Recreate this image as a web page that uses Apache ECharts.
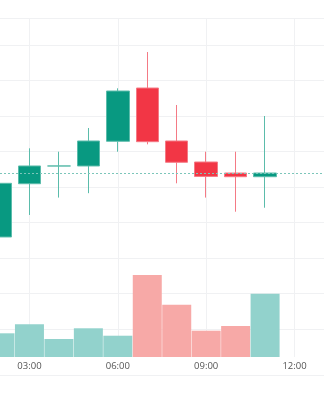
<!DOCTYPE html>
<html>
<head>
<meta charset="utf-8">
<script src="https://cdn.jsdelivr.net/npm/echarts@6/dist/echarts.min.js"></script>
<style>
html,body{margin:0;padding:0;background:#fff;}
#chart{width:324px;height:400px;}
</style>
</head>
<body>
<div id="chart"></div>
<script>
// Time slots (hourly)
const categories = ['02:00','03:00','04:00','05:00','06:00','07:00','08:00','09:00','10:00','11:00','12:00','13:00'];
// Candle values per hour: open, close, low, high
const opens  = [92.96, 100.46, 102.96, 102.96, 106.44, 113.94, 106.48, 103.52, 101.97, 101.45];
const closes = [100.52, 102.96, 102.96, 106.48, 113.52, 106.38, 103.48, 101.49, 101.45, 101.97];
const lows   = [91.50, 96.06, 98.51, 99.13, 104.97, 106.01, 100.52, 98.51, 96.52, 97.08];
const highs  = [101.50, 105.45, 104.97, 108.31, 113.90, 119.01, 111.55, 104.97, 104.97, 110.00];
// Volume per hour
const volumes = [699, 965, 531, 847, 628, 2419, 1543, 776, 914, 1867];
// Price scale ticks
const priceMin = 80, priceMax = 120, priceStep = 5;

const UP = '#089981', DOWN = '#f23645';
const UP_WICK = '#5bbcab', DOWN_WICK = '#f47a85';
const UP_VOL = '#92d2cc', DOWN_VOL = '#f7a9a7';
const GRID = '#f0f1f3';

const candleData = categories.map((c, i) => i < opens.length ? [opens[i], closes[i], lows[i], highs[i]] : '-');
const isUp = opens.map((o, i) => closes[i] >= o);
const volumeData = categories.map((c, i) => i < volumes.length ? volumes[i] : '-');
const lastClose = closes[closes.length - 1];

const labelEvery = (idx) => idx % 3 === 1;

const chart = echarts.init(document.getElementById('chart'), null, {renderer: 'canvas'});
chart.setOption({
  animation: false,
  backgroundColor: '#fff',
  grid: [
    {left: -2.9, right: -1.9, top: 45, bottom: 71},
    {left: -2.9, right: -1.9, top: 18, bottom: 43}
  ],
  xAxis: [
    {type: 'category', gridIndex: 0, data: categories, boundaryGap: false,
     axisLine: {show: false}, axisTick: {show: false}, axisLabel: {show: false}, splitLine: {show: false}},
    {type: 'category', gridIndex: 1, data: categories, boundaryGap: false,
     axisLine: {show: false}, axisTick: {show: false},
     axisLabel: {show: true, interval: labelEvery, fontFamily: 'Open Sans', fontSize: 9.5, color: '#555', margin: 4},
     splitLine: {show: true, interval: labelEvery, lineStyle: {color: GRID, width: 1}}}
  ],
  yAxis: [
    {type: 'value', gridIndex: 0, min: priceMin, max: priceMax, interval: priceStep,
     axisLine: {show: false}, axisTick: {show: false}, axisLabel: {show: false},
     splitLine: {show: true, lineStyle: {color: GRID, width: 1}}},
    {type: 'value', gridIndex: 1, min: 0, max: 10000,
     axisLine: {show: false}, axisTick: {show: false}, axisLabel: {show: false}, splitLine: {show: false}}
  ],
  graphic: [
    {type: 'line', shape: {x1: 0, y1: 18.5, x2: 324, y2: 18.5}, style: {stroke: GRID, lineWidth: 1}, silent: true},
    {type: 'line', shape: {x1: 0, y1: 375.5, x2: 324, y2: 375.5}, style: {stroke: GRID, lineWidth: 1}, silent: true}
  ],
  series: [
    {
      type: 'bar', xAxisIndex: 1, yAxisIndex: 1, data: volumeData, barWidth: 29, z: 1,
      itemStyle: {color: (p) => isUp[p.dataIndex] ? UP_VOL : DOWN_VOL}
    },
    {
      type: 'candlestick', xAxisIndex: 0, yAxisIndex: 0, data: candleData, barWidth: 23, z: 3,
      itemStyle: {color: UP, color0: DOWN, borderColor: UP_WICK, borderColor0: DOWN_WICK, borderColorDoji: UP_WICK, borderWidth: 1},
      markLine: {
        silent: true, symbol: ['none', 'none'], label: {show: false},
        lineStyle: {color: '#7cc6ba', type: [2, 2], width: 1},
        data: [{yAxis: lastClose}]
      }
    }
  ]
});
</script>
</body>
</html>
